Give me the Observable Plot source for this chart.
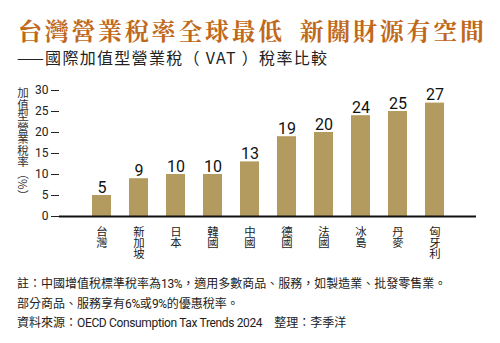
<!DOCTYPE html>
<html><head><meta charset="utf-8">
<script src="https://cdn.jsdelivr.net/npm/d3@7"></script>
<script src="https://cdn.jsdelivr.net/npm/@observablehq/plot@0.6"></script>
<style>
body{margin:0;background:#fff;}
#wrap{width:500px;height:343px;position:relative;overflow:hidden;font-family:"Noto Sans CJK TC",sans-serif;}
#title{height:44px;box-sizing:border-box;padding:16px 0 0 18px;font-size:24px;line-height:28px;font-weight:700;color:#c0691b;letter-spacing:2.7px;white-space:nowrap;font-family:"Noto Serif CJK TC","Noto Sans CJK TC",serif;}
#subtitle{height:26px;box-sizing:border-box;padding:3px 0 0 17px;font-size:16px;line-height:20px;color:#222;letter-spacing:1.3px;white-space:nowrap;}
#chartbox{position:relative;height:200px;}
#ylab{position:absolute;left:17px;top:17px;writing-mode:vertical-rl;font-size:11.5px;line-height:12px;color:#333;}
#notes{box-sizing:border-box;padding:4px 0 0 17px;font-size:12px;line-height:17.5px;color:#222;white-space:nowrap;font-family:"Noto Sans CJK TC",sans-serif;}
#notes .lat{font-family:Roboto,sans-serif;letter-spacing:-0.35px;}
svg text.vlab{writing-mode:vertical-rl;}
</style>
</head>
<body>
<div id="wrap">
  <div id="title">台灣營業稅率全球最低&#8194;新關財源有空間</div>
  <div id="subtitle">——國際加值型營業稅（ VAT ）稅率比較</div>
  <div id="chartbox"><div id="ylab">加值型營業稅率（%）</div></div>
  <div id="notes">註：中國增值稅標準稅率為<span class="lat">13%</span>，適用多數商品、服務，如製造業、批發零售業。<br>部分商品、服務享有<span class="lat">6%</span>或<span class="lat">9%</span>的優惠稅率。<br>資料來源：<span class="lat">OECD Consumption Tax Trends 2024</span>　整理：李季洋</div>
</div>
<script>
const countries = ["台灣","新加坡","日本","韓國","中國","德國","法國","冰島","丹麥","匈牙利"];
const rates = [5, 9, 10, 10, 13, 19, 20, 24, 25, 27];
const yTicks = [0, 5, 10, 15, 20, 25, 30];

const data = countries.map((c, i) => ({country: c, rate: rates[i]}));

const chart = Plot.plot({
  width: 500,
  height: 200,
  marginTop: 20,
  marginBottom: 54,
  marginLeft: 59,
  marginRight: 24,
  style: {fontFamily: "Roboto, 'Noto Sans CJK TC', sans-serif", background: "transparent", color: "#222"},
  x: {domain: countries, paddingInner: 0.49, paddingOuter: 0.845, axis: null},
  y: {domain: [0, 30], axis: null},
  marks: [
    Plot.barY(data, {x: "country", y: "rate", fill: "#b39b5f"}),
    Plot.axisY({ticks: yTicks, tickSize: 8, tickPadding: 3, fontSize: 12, color: "#222", label: null}),
    Plot.axisX({tickSize: 0, tickPadding: 1, fontSize: 11.4, label: null,
      fontFamily: "'Noto Sans CJK TC', sans-serif", color: "#222"}),
    Plot.ruleY([0], {stroke: "#111", strokeWidth: 2}),
    Plot.text(data, {x: "country", y: "rate", text: d => String(d.rate), dy: -3, lineAnchor: "bottom",
      fontSize: 16, fill: "#111", fontFamily: "Roboto, sans-serif"})
  ]
});
// set the x tick labels in vertical writing mode (stacked characters)
chart.querySelectorAll("text").forEach(t => {
  if (countries.includes(t.textContent)) {
    t.classList.add("vlab");
    t.setAttribute("writing-mode", "tb");
    t.setAttribute("text-anchor", "start");
    t.removeAttribute("dy");
  }
});
document.getElementById("chartbox").appendChild(chart);
</script>
</body></html>
